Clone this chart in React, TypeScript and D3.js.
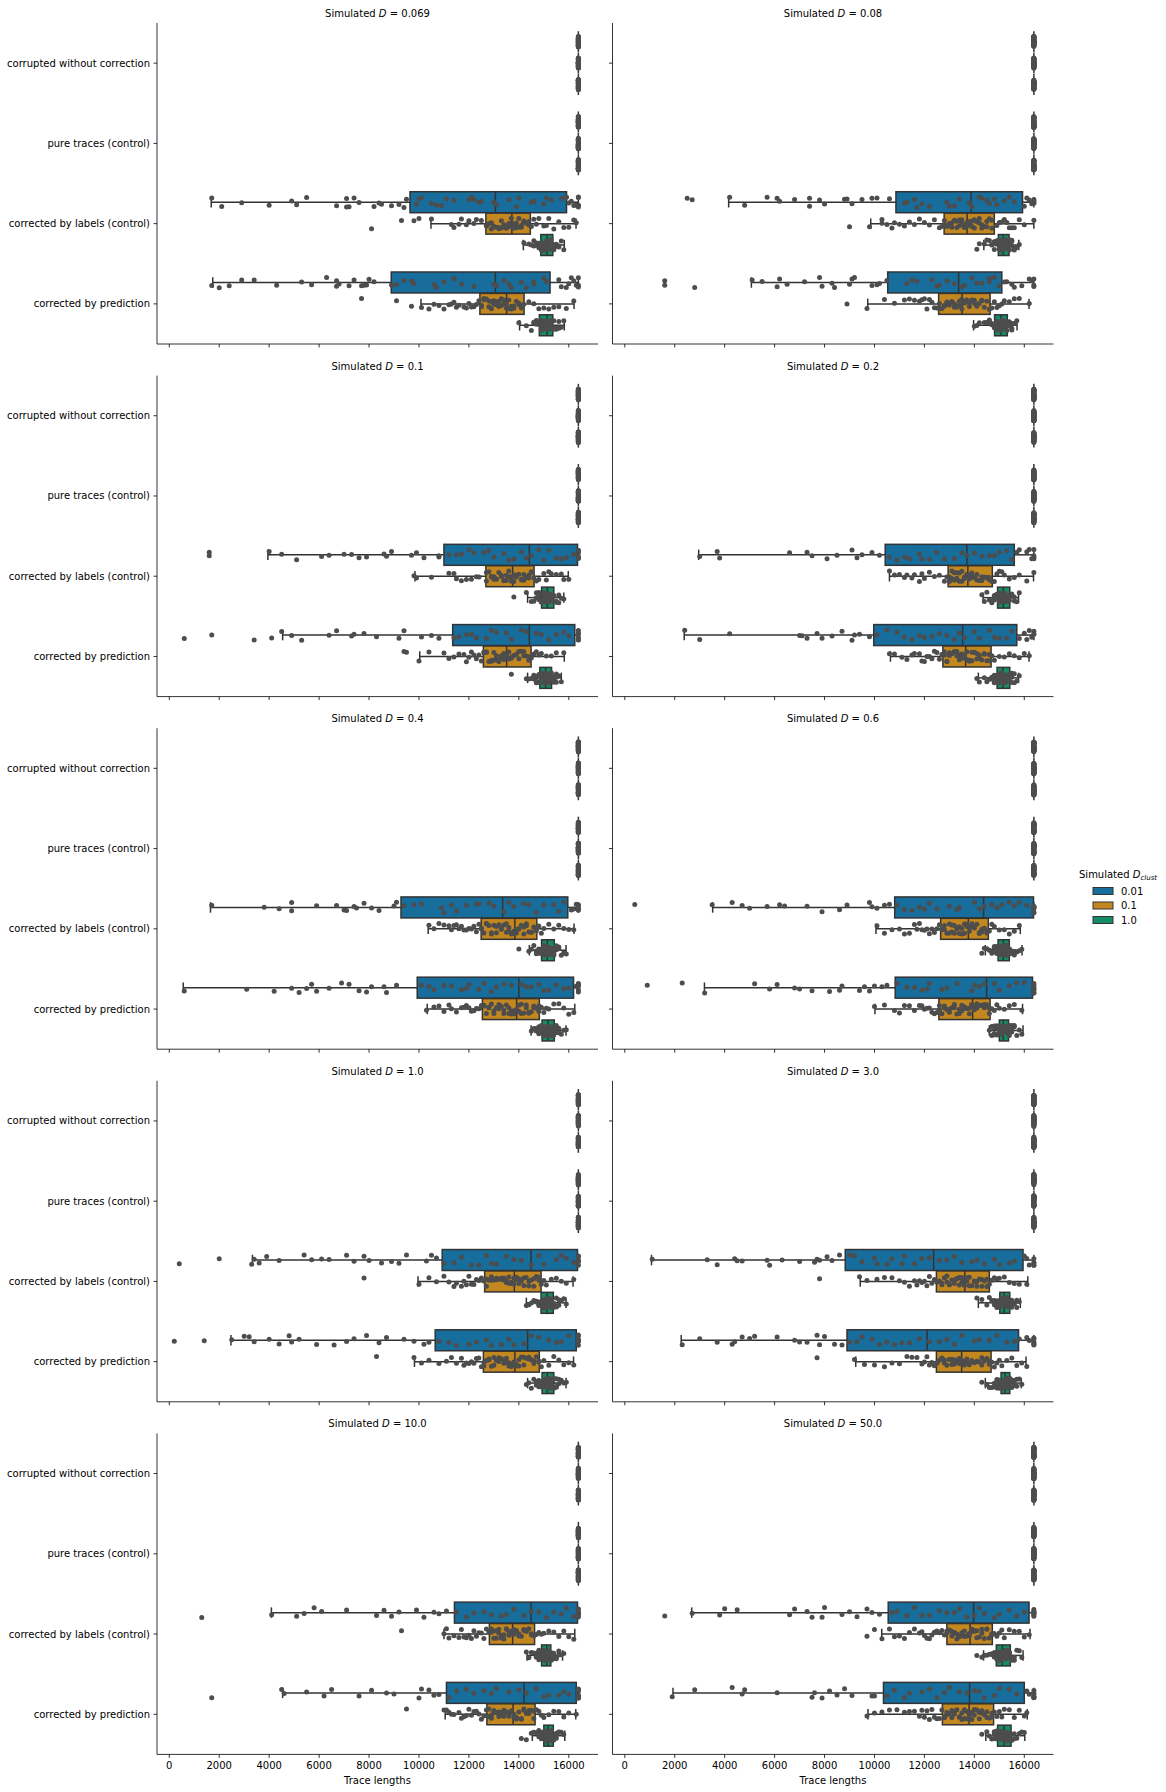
import React from "react";
import * as d3 from "d3";

// ---------------- data ----------------
const panelTitles = ["0.069", "0.08", "0.1", "0.2", "0.4", "0.6", "1.0", "3.0", "10.0", "50.0"];
const categories = [
  "corrupted without correction",
  "pure traces (control)",
  "corrected by labels (control)",
  "corrected by prediction",
];
const hueLevels = ["0.01", "0.1", "1.0"];
const hueColors = ["#176d9c", "#c38720", "#168b6a"];
const xTicks = [0, 2000, 4000, 6000, 8000, 10000, 12000, 14000, 16000];
const CAP = 16384; // every trace of the two uncorrected/pure categories sits at this length
const capPointsPerHue = 40;
const UNIT = 100; // box stats and points below are written in hundreds

// box stats per panel, per hue: [whisker lo, q1, median, q3, whisker hi]
const labelsBoxes = [
  [[16.8, 96.4, 130.6, 159.1, 163.84], [104.8, 126.8, 137.2, 144.6, 162.9], [141.8, 148.8, 151.3, 153.6, 158.2]],
  [[41.6, 108.6, 138.7, 159.3, 163.84], [98.5, 127.9, 137.1, 148, 163.84], [143.8, 149.6, 151.6, 153.9, 157.8]],
  [[39.5, 110, 144.2, 163.5, 163.84], [98.4, 126.8, 137.5, 146.1, 159.8], [143.5, 149.1, 151.4, 154, 158]],
  [[29.6, 104.3, 137, 156, 163.84], [106, 129.5, 137.4, 147.2, 163.7], [143.5, 149.3, 151.6, 154.2, 157.7]],
  [[16.5, 92.8, 133.5, 159.6, 163.84], [103.7, 124.9, 138.4, 147.2, 162.1], [144.2, 149.1, 151.4, 154.2, 158.9]],
  [[35.2, 108.1, 143.7, 163.7, 163.84], [100.6, 126.5, 137.6, 145.6, 158.4], [144.4, 149.5, 151.6, 154, 159.1]],
  [[33.3, 109.3, 144.9, 163.5, 163.84], [99.6, 126.3, 138.2, 148.9, 161.7], [143, 148.9, 151.2, 153.8, 158.9]],
  [[10.7, 88.3, 123.7, 159.5, 163.84], [94.3, 124.8, 136.2, 146, 161.4], [141.6, 150.2, 151.9, 154.2, 158.4]],
  [[40.9, 114.2, 144.9, 163.5, 163.84], [110, 128.2, 137.5, 146.3, 162.4], [143.3, 149.1, 151.2, 152.8, 157.5]],
  [[26.8, 105.5, 139.7, 161.9, 163.84], [102.9, 129, 138.3, 147.2, 162.3], [143.7, 148.8, 151.2, 154.4, 159.5]],
];
const predictionBoxes = [
  [[17.4, 88.9, 130.6, 152.5, 163.84], [100.8, 124.4, 135.1, 142.1, 162.1], [140.3, 148.2, 151.3, 153.6, 158.2]],
  [[50.7, 105.3, 133.7, 151, 163.84], [97.3, 125.7, 135.1, 146.3, 161.9], [139.7, 148.1, 150.6, 153.2, 157.1]],
  [[45.4, 113.5, 144.2, 162.4, 163.84], [100.3, 125.8, 135.1, 144.9, 158.2], [143.5, 148.4, 150.7, 153.1, 157]],
  [[23.8, 99.7, 135.3, 157, 163.84], [106.4, 127.4, 136.5, 146.7, 161.9], [141.6, 149.1, 151.4, 154.2, 157.7]],
  [[5.6, 99.3, 140, 161.9, 163.84], [103.3, 125.4, 139.1, 148.2, 162.4], [144.9, 149.3, 151.7, 154.2, 158.9]],
  [[31.9, 108.3, 144.9, 163.3, 163.84], [100.2, 125.8, 139.3, 146.3, 159.3], [146, 150, 151.6, 153.7, 159.5]],
  [[24.7, 106.5, 143.5, 163, 163.84], [98.2, 125.8, 138.4, 148.2, 161.9], [143.5, 149.3, 151.4, 154, 158.9]],
  [[22.6, 89, 121.1, 157.7, 163.84], [92.5, 124.8, 134.9, 146.7, 160.7], [144.4, 150.7, 152.3, 154.2, 158.8]],
  [[45.4, 111, 142.1, 163, 163.84], [110.5, 127.2, 137.7, 146.5, 162.8], [145.4, 150, 151.7, 153.8, 158.4]],
  [[19.3, 103.6, 138.1, 160, 163.84], [97.4, 127.2, 137.9, 147.7, 161.2], [144.6, 149.3, 151.9, 154.7, 160.2]],
];

// individual trace lengths (hundreds) per panel, per hue
const labelsPoints = [
  [
    "17 21 29 40 49 51 55 67 71 71 72 74 76 82 84 85 89 92 94 95 99 100 101 105 107 109 111 114 120 121 122 124 125 130 131 136 139 140 145 146 146 150 151 153 157 159 159 160 161 162 163 164 164 164 164 164",
    "81 93 98 100 105 113 114 116 117 119 120 122 123 125 127 128 129 130 131 132 133 134 135 136 137 137 138 139 140 141 142 143 144 145 146 147 148 150 151 152 154 156 158 160 162 163 127 129 130 132 133 134 135 136 137 138 139 140 141 142 144",
    "142 144 145 146 146 147 147 148 148 149 149 150 150 150 151 151 151 152 152 152 153 153 154 154 155 155 156 157 158 147 148 148 149 149 150 150 150 151 151 151 151 152 152 152 153 153 154 155 156",
  ],
  [
    "25 27 42 48 57 61 62 68 74 74 78 80 88 89 91 95 99 101 106 112 113 116 117 119 122 129 130 132 134 138 139 142 143 145 146 148 149 152 154 156 160 161 162 163 164 164 164 164",
    "90 98 103 103 105 107 108 110 112 114 116 118 120 122 124 126 127 128 129 130 131 132 133 134 135 136 137 138 139 140 141 142 143 144 145 146 147 149 150 151 152 153 154 155 156 158 160 164 128 130 131 133 134 135 136 137 138 139 140 142 143 145 147",
    "141 142 144 145 146 147 148 148 149 149 150 150 150 151 151 151 152 152 152 153 153 153 154 154 155 155 156 157 158 147 148 149 149 150 150 150 151 151 151 152 152 152 152 153 153 154 154 155 156",
  ],
  [
    "16 16 40 45 51 61 64 70 73 76 79 86 87 89 97 99 102 108 108 112 115 117 120 122 126 128 130 134 136 138 141 143 145 148 150 152 155 157 159 162 164 164 164 164 164 164",
    "98 99 105 112 114 115 117 119 121 123 124 127 128 129 130 131 132 133 134 135 136 137 138 139 140 141 142 143 144 145 146 147 148 150 151 152 153 155 157 158 160 127 129 130 131 133 134 135 136 137 138 139 141 142 144 145",
    "138 143 145 146 147 148 148 149 149 150 150 150 151 151 151 152 152 152 153 153 153 154 154 155 155 156 157 158 147 148 148 149 149 150 150 150 151 151 151 151 152 152 152 153 153 154 155 156",
  ],
  [
    "30 37 38 66 73 75 81 85 91 93 95 99 102 106 109 112 114 118 119 122 125 128 132 135 137 140 143 146 148 150 153 155 157 158 161 162 163 164 164 164 164",
    "106 108 110 112 113 115 116 118 119 120 122 124 126 128 129 130 131 132 133 134 135 136 137 138 139 140 141 142 143 144 145 146 147 148 149 150 151 152 154 156 158 161 164 130 131 132 133 134 135 136 137 138 139 140 141 143 145 146",
    "143 144 145 146 147 148 148 149 149 150 150 150 151 151 151 152 152 152 153 153 153 154 154 155 155 156 157 158 147 148 149 149 150 150 150 151 151 151 152 152 152 152 153 153 154 154 155 156",
  ],
  [
    "17 38 44 49 49 59 67 70 71 74 75 78 81 84 90 91 94 98 101 109 110 113 115 119 123 124 128 130 134 136 138 142 144 147 150 154 156 158 161 162 163 164 164 164 164 164",
    "104 106 108 110 112 113 114 115 116 117 118 119 120 121 122 123 124 125 126 127 128 129 130 131 132 133 134 135 136 137 138 139 140 141 142 143 144 145 146 147 148 149 150 152 154 156 158 160 162 125 127 129 131 133 135 136 137 138 139 140 142 143 145 147",
    "140 144 145 146 147 148 148 149 149 150 150 150 151 151 151 152 152 152 153 153 153 154 154 155 155 156 157 158 159 147 148 149 149 150 150 150 151 151 151 151 152 152 152 153 153 154 154 155 156",
  ],
  [
    "4 35 43 47 50 57 62 64 73 79 86 89 98 99 101 104 106 109 112 115 118 120 122 125 130 133 134 140 142 144 147 149 151 154 156 158 161 164 164 164 164 164 164 164",
    "101 104 107 110 112 114 116 117 118 119 120 121 122 123 124 125 126 127 128 129 130 131 132 133 134 135 136 137 138 139 140 141 142 143 144 145 146 147 148 150 152 154 156 158 127 128 130 131 132 134 135 136 137 138 139 140 142 143 145",
    "143 144 145 146 147 148 148 149 149 150 150 150 151 151 151 152 152 152 153 153 153 154 154 155 156 157 158 159 147 148 149 149 150 150 150 151 151 151 152 152 152 152 153 153 154 154 155 156",
  ],
  [
    "4 20 33 34 36 39 44 54 57 61 64 71 74 78 80 85 89 92 95 103 105 107 110 114 117 121 124 127 129 131 135 138 141 145 148 150 155 157 159 162 164 164 164 164 164 164",
    "78 100 104 107 110 112 114 115 117 118 119 120 121 122 123 124 125 126 127 128 129 130 131 132 133 134 135 136 137 138 139 140 141 142 143 144 145 146 147 148 149 150 151 153 155 157 159 162 127 129 131 133 134 135 136 137 138 139 140 142 144 146 148",
    "143 144 145 146 147 148 148 149 149 150 150 150 151 151 151 152 152 152 153 153 153 154 154 155 155 156 157 158 159 147 148 148 149 149 150 150 150 151 151 151 151 152 152 152 153 153 154 155 156",
  ],
  [
    "11 33 37 44 45 47 57 58 63 70 76 77 78 81 83 86 90 92 95 100 101 105 107 111 112 116 119 122 126 129 132 135 139 141 144 148 150 154 156 160 161 162 164 164 164 164 164",
    "78 94 97 101 104 107 110 112 114 116 117 118 119 120 121 122 123 124 125 126 127 128 129 130 131 132 133 134 135 136 137 138 139 140 141 142 143 144 145 146 147 148 149 150 152 154 156 158 161 125 127 129 130 132 133 134 135 136 137 138 140 141 143 145",
    "141 143 145 146 147 148 149 149 150 150 150 151 151 151 152 152 152 153 153 153 154 154 155 155 156 157 158 148 149 149 150 150 151 151 151 152 152 152 152 153 153 153 154 154 155 156 157",
  ],
  [
    "13 41 51 54 58 61 71 83 86 89 92 99 102 106 108 111 115 119 122 126 129 133 135 138 142 145 148 151 154 157 159 162 164 164 164 164 164 164 164",
    "93 110 111 112 114 116 117 118 119 120 121 122 123 124 125 126 127 128 129 130 131 132 133 134 135 136 137 138 139 140 141 142 143 144 145 146 147 148 149 150 152 154 156 158 160 162 129 130 131 132 133 134 135 136 137 138 139 140 142 143 145",
    "143 144 145 146 147 148 148 149 149 150 150 150 151 151 151 152 152 152 153 153 154 154 155 156 157 158 147 148 148 149 149 150 150 150 151 151 151 151 152 152 152 153 153 154 155 156",
  ],
  [
    "16 27 38 40 45 66 68 73 75 79 80 87 90 93 97 99 102 107 109 113 116 119 122 126 129 132 134 137 140 142 144 148 150 154 157 160 164 164 164 164 164 164 164 164",
    "97 100 103 106 108 110 112 114 116 118 119 120 121 122 123 124 125 126 127 128 129 130 131 132 133 134 135 136 137 138 139 140 141 142 143 144 145 146 147 148 149 150 151 152 154 156 158 160 162 129 131 132 133 134 135 136 137 138 139 140 141 143 145 147",
    "141 143 144 145 146 147 148 148 149 149 150 150 150 151 151 151 152 152 152 153 153 153 154 154 155 155 156 157 158 159 147 148 148 149 149 150 150 150 151 151 151 151 152 152 152 153 153 154 155 156",
  ],
];
const predictionPoints = [
  [
    "17 20 24 29 34 43 53 57 63 67 67 68 72 74 77 78 79 80 82 89 91 94 97 98 106 107 110 114 114 117 122 130 131 134 136 137 141 143 146 146 150 151 156 157 159 160 161 162 163 164 164 164",
    "77 91 97 101 104 106 108 110 112 113 114 115 116 118 119 120 121 122 123 124 125 126 127 128 129 130 131 132 133 134 135 136 137 138 139 140 141 142 144 146 148 150 152 154 156 159 162 125 126 128 129 130 131 132 133 134 135 136 137 138 140 141",
    "140 143 145 146 146 147 147 148 148 148 149 149 150 150 150 151 151 151 152 152 152 153 153 153 154 154 155 156 157 158 147 148 148 149 149 150 150 150 151 151 151 151 152 152 152 153 153 154 155 156",
  ],
  [
    "16 16 28 51 55 61 62 65 72 78 79 83 84 90 91 92 99 101 102 105 113 115 117 123 125 126 129 132 135 136 139 141 143 146 146 148 150 152 153 155 156 159 162 163 164 164 164",
    "89 97 104 108 112 114 116 118 119 120 121 122 123 124 125 126 127 128 129 130 131 132 133 134 135 136 137 138 139 140 141 142 143 144 146 147 148 149 150 151 152 154 156 158 162 126 128 129 130 132 133 134 135 136 137 138 140 141 143 145",
    "140 141 142 144 145 146 146 147 148 148 149 149 150 150 150 151 151 151 152 152 152 153 153 154 154 155 155 156 157 146 147 148 148 149 149 150 150 150 150 151 151 151 152 152 152 153 153 154 155",
  ],
  [
    "6 17 34 41 45 49 53 64 67 73 74 78 83 92 94 101 105 108 114 116 119 121 123 127 129 131 135 137 141 143 147 149 152 155 158 160 164 164 164 164 164 164",
    "94 95 100 104 110 112 114 116 118 119 120 121 122 123 124 125 126 127 128 129 130 131 132 133 134 135 136 137 138 139 140 141 142 143 144 145 146 147 148 149 151 153 155 158 126 127 129 130 131 132 133 134 135 136 137 139 140 142 144",
    "137 143 144 145 146 147 147 148 148 149 149 150 150 150 151 151 151 152 152 152 153 153 154 154 155 155 156 157 146 147 148 148 149 149 150 150 150 151 151 151 151 152 152 152 153 153 154 155",
  ],
  [
    "24 30 42 70 71 73 77 79 83 87 91 92 94 98 101 105 109 112 115 118 120 123 126 129 132 134 136 140 142 146 148 150 153 155 158 160 161 162 163 164 164 164",
    "106 108 111 113 115 116 118 119 120 121 122 123 124 125 126 127 128 129 130 131 132 133 134 135 136 137 138 139 140 141 142 143 144 145 146 147 148 150 152 154 156 158 160 162 128 129 130 131 133 134 135 136 137 138 139 141 142 144 146",
    "141 142 144 145 146 147 148 148 149 149 150 150 150 151 151 151 152 152 152 153 153 154 154 155 155 156 157 158 147 148 148 149 149 150 150 150 151 151 151 151 152 152 152 153 153 154 155 156",
  ],
  [
    "6 31 42 49 52 55 57 59 64 69 72 76 79 81 86 87 91 101 104 106 110 113 117 119 120 124 126 129 131 134 137 141 143 145 148 150 152 155 158 160 163 164 164 164 164 164",
    "103 106 108 110 112 113 115 117 118 119 120 121 122 123 124 125 126 127 128 129 130 131 132 133 134 135 136 137 138 139 140 141 142 143 144 145 146 147 148 149 150 151 152 154 156 158 160 162 126 128 130 132 134 136 137 138 139 140 141 143 144 146 148",
    "145 146 147 147 148 148 149 149 150 150 150 151 151 151 152 152 152 153 153 153 154 154 155 155 156 157 158 159 148 148 149 149 150 150 150 151 151 151 151 152 152 152 153 153 154 154 155 156",
  ],
  [
    "9 23 32 52 58 61 68 70 75 82 86 87 94 96 98 100 103 105 109 113 116 119 121 122 127 129 133 139 140 142 144 148 150 154 157 160 164 164 164 164 164 164 164 164",
    "100 104 108 110 112 114 116 118 119 120 121 122 123 124 125 126 127 128 129 130 131 132 133 134 135 136 137 138 139 140 141 142 143 144 145 146 147 148 149 150 152 154 156 159 126 128 130 132 134 135 136 137 138 139 140 141 143 144 146",
    "146 147 147 148 148 149 149 150 150 150 151 151 151 152 152 152 153 153 153 154 154 155 155 156 157 158 159 148 148 149 149 150 150 150 151 151 151 151 152 152 152 153 153 154 154 155 156",
  ],
  [
    "2 14 25 30 32 34 40 44 48 49 52 59 66 71 74 79 84 87 94 98 102 104 108 112 115 120 123 127 129 133 136 138 142 145 148 152 155 157 160 164 164 164 164 164 164 164",
    "83 98 101 104 108 111 113 115 117 118 119 120 121 122 123 124 125 126 127 128 129 130 131 132 133 134 135 136 137 138 139 140 141 142 143 144 145 146 147 148 149 150 152 154 156 158 160 162 126 128 130 132 134 135 136 137 138 139 140 142 144 146 148",
    "143 144 145 146 147 148 148 149 149 150 150 150 151 151 151 152 152 152 153 153 153 154 154 155 155 156 157 158 159 147 148 148 149 149 150 150 150 151 151 151 151 152 152 152 153 153 154 155 156",
  ],
  [
    "23 30 37 43 44 47 50 52 61 68 70 73 77 78 80 84 87 90 93 95 99 102 105 108 111 114 118 122 126 129 132 135 140 142 146 149 153 156 158 161 162 164 164 164 164 164 164",
    "77 92 96 100 104 107 110 113 115 117 119 120 121 122 123 124 125 126 127 128 129 130 131 132 133 134 135 136 137 138 139 140 141 142 143 144 145 146 147 148 149 150 151 153 155 157 159 161 125 127 128 130 131 132 133 134 135 136 137 139 141 143 146",
    "143 145 146 147 148 149 149 150 150 151 151 151 152 152 152 153 153 153 154 154 155 155 156 157 158 159 148 149 149 150 150 151 151 151 152 152 152 152 153 153 153 154 154 155 156 157",
  ],
  [
    "17 45 46 55 62 65 76 81 87 90 100 101 104 106 108 112 115 119 122 126 129 131 136 140 143 147 150 152 156 158 160 164 164 164 164 164 164 164",
    "95 110 111 112 113 114 116 117 118 119 120 121 122 123 124 125 126 127 128 129 130 131 132 133 134 135 136 137 138 139 140 141 142 143 144 145 146 147 148 149 150 152 154 156 158 160 163 128 129 130 132 133 134 135 136 137 138 139 141 142 144 146",
    "141 143 145 146 147 148 148 149 149 150 150 150 151 151 151 152 152 152 153 153 153 154 154 155 155 156 157 158 148 148 149 149 150 150 150 151 151 151 151 152 152 152 153 153 154 154 155 156",
  ],
  [
    "19 28 43 47 48 61 75 76 79 82 85 88 91 99 100 105 108 112 114 119 122 125 128 130 134 137 140 142 144 148 150 154 157 161 162 164 164 164 164 164 164 164",
    "97 100 103 106 109 112 114 116 118 119 120 121 122 123 124 125 126 127 128 129 130 131 132 133 134 135 136 137 138 139 140 141 142 143 144 145 146 147 148 149 150 151 152 154 156 158 160 161 128 129 131 132 134 135 136 137 138 139 140 142 143 145 147",
    "143 145 146 147 148 148 149 149 150 150 150 151 151 151 152 152 152 153 153 153 154 154 155 155 156 157 158 159 160 148 148 149 149 150 150 150 151 151 151 152 152 152 152 153 153 154 154 155 156",
  ],
];

// ---------------- layout ----------------
const W = 1166;
const H = 1792;
const FONT = "DejaVu Sans";
const colLeft = [157, 612.5];
const panelW = 441;
const rowTop0 = 23;
const rowPitch = 352.6;
const panelH = 321;
const xDomain = [-492, 17170];
const GRAY = "#333333";
const POINT = "#4d4d4d";

const parse = (s: string) =>
  s.trim().split(/\s+/).map((v) => Math.min(Number(v) * UNIT, CAP));

// deterministic jitter (layout only, not data)
const jit = (i: number, seed: number) => {
  const s = Math.sin(i * 12.9898 + seed * 78.233) * 43758.5453;
  return (s - Math.floor(s)) * 2 - 1;
};

function Panel({ idx }: { idx: number }) {
  const r = Math.floor(idx / 2);
  const c = idx % 2;
  const left = colLeft[c];
  const top = rowTop0 + r * rowPitch;
  const bottom = top + panelH;
  const right = left + panelW;
  const x = d3.scaleLinear().domain(xDomain).range([left, right]);
  const y = d3.scaleBand().domain(categories).range([top, bottom]).padding(0);
  const bw = y.bandwidth();
  const hue = d3.scaleBand().domain(hueLevels).range([-0.4 * bw, 0.4 * bw]);
  const hb = hue.bandwidth();
  const boxH = hb * 0.98;
  const jlim = (0.2 / hueLevels.length) * bw;
  const capHalf = boxH / 4;

  const boxesFor = (ci: number): number[][] => {
    if (ci === 2) return labelsBoxes[idx].map((b) => b.map((v) => Math.min(v * UNIT, CAP)));
    if (ci === 3) return predictionBoxes[idx].map((b) => b.map((v) => Math.min(v * UNIT, CAP)));
    return hueLevels.map(() => [CAP, CAP, CAP, CAP, CAP]);
  };
  const pointsFor = (ci: number, hi: number): number[] => {
    if (ci === 2) return parse(labelsPoints[idx][hi]);
    if (ci === 3) return parse(predictionPoints[idx][hi]);
    return d3.range(capPointsPerHue).map(() => CAP);
  };

  const boxEls: React.ReactNode[] = [];
  const ptEls: React.ReactNode[] = [];
  categories.forEach((cat, ci) => {
    const cy = (y(cat) as number) + bw / 2;
    const stats = boxesFor(ci);
    hueLevels.forEach((h, hi) => {
      const hy = cy + (hue(h) as number) + hb / 2;
      const [lo, q1, med, q3, whi] = stats[hi];
      const k = `${ci}-${hi}`;
      boxEls.push(
        <g key={k}>
          <line x1={x(lo)} x2={x(q1)} y1={hy} y2={hy} stroke={GRAY} strokeWidth={1.5} />
          <line x1={x(q3)} x2={x(whi)} y1={hy} y2={hy} stroke={GRAY} strokeWidth={1.5} />
          <line x1={x(lo)} x2={x(lo)} y1={hy - capHalf} y2={hy + capHalf} stroke={GRAY} strokeWidth={1.5} />
          <line x1={x(whi)} x2={x(whi)} y1={hy - capHalf} y2={hy + capHalf} stroke={GRAY} strokeWidth={1.5} />
          <rect
            x={x(q1)}
            y={hy - boxH / 2}
            width={Math.max(0, x(q3) - x(q1))}
            height={boxH}
            fill={hueColors[hi]}
            stroke={GRAY}
            strokeWidth={1.5}
          />
          <line x1={x(med)} x2={x(med)} y1={hy - boxH / 2} y2={hy + boxH / 2} stroke={GRAY} strokeWidth={1.5} />
        </g>
      );
      const pts = pointsFor(ci, hi);
      const seed = idx * 13 + ci * 3 + hi + 1;
      pts.forEach((v, i) => {
        ptEls.push(
          <circle key={`${k}-${i}`} cx={x(v)} cy={hy + jit(i + 1, seed) * jlim} r={2.5} fill={POINT} />
        );
      });
    });
  });

  const cx = (left + right) / 2;
  return (
    <g>
      {boxEls}
      {ptEls}
      {/* spines */}
      <line x1={left} x2={left} y1={top} y2={bottom} stroke="#000" strokeWidth={0.8} />
      <line x1={left} x2={right} y1={bottom} y2={bottom} stroke="#000" strokeWidth={0.8} />
      {/* y ticks */}
      {categories.map((cat) => {
        const cy = (y(cat) as number) + bw / 2;
        return (
          <g key={cat}>
            <line x1={left - 3.5} x2={left} y1={cy} y2={cy} stroke="#000" strokeWidth={0.8} />
            {c === 0 && (
              <text x={left - 7} y={cy} dy="0.35em" textAnchor="end" fontSize={10} fontFamily={FONT} fill="#000">
                {cat}
              </text>
            )}
          </g>
        );
      })}
      {/* x ticks */}
      {xTicks.map((t) => (
        <g key={t}>
          <line x1={x(t)} x2={x(t)} y1={bottom} y2={bottom + 3.5} stroke="#000" strokeWidth={0.8} />
          {r === 4 && (
            <text x={x(t)} y={bottom + 7} dy="0.76em" textAnchor="middle" fontSize={10} fontFamily={FONT} fill="#000">
              {t}
            </text>
          )}
        </g>
      ))}
      {r === 4 && (
        <text x={cx} y={bottom + 30} textAnchor="middle" fontSize={10} fontFamily={FONT} fill="#000">
          Trace lengths
        </text>
      )}
      <text x={cx} y={top - 6} textAnchor="middle" fontSize={10} fontFamily={FONT} fill="#000">
        Simulated <tspan fontStyle="italic">D</tspan> = {panelTitles[idx]}
      </text>
    </g>
  );
}

function Legend() {
  const lx = 1093;
  const ys = [891, 905.5, 920];
  return (
    <g fontFamily={FONT} fontSize={10} fill="#000">
      <text x={1079} y={877.5}>
        Simulated <tspan fontStyle="italic">D</tspan>
        <tspan fontStyle="italic" fontSize={7} dy={2}>
          clust
        </tspan>
      </text>
      {hueLevels.map((h, i) => (
        <g key={h}>
          <rect x={lx} y={ys[i] - 3.5} width={20} height={7} fill={hueColors[i]} stroke={GRAY} strokeWidth={1} />
          <text x={1121} y={ys[i]} dy="0.35em">
            {h}
          </text>
        </g>
      ))}
    </g>
  );
}

export default function App() {
  return (
    <svg
      width={W}
      height={H}
      viewBox={`0 0 ${W} ${H}`}
      style={{ position: "absolute", left: 0, top: 0, background: "#fff", display: "block" }}
    >
      <rect x={0} y={0} width={W} height={H} fill="#fff" />
      {panelTitles.map((_, i) => (
        <Panel key={i} idx={i} />
      ))}
      <Legend />
    </svg>
  );
}
